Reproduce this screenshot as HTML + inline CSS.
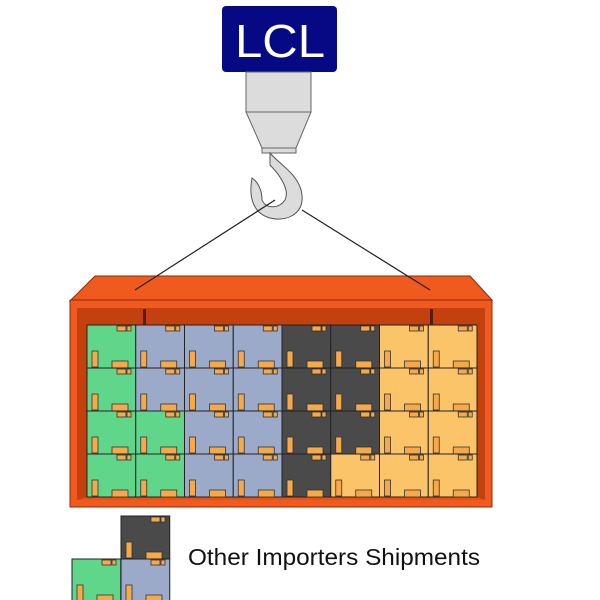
<!DOCTYPE html>
<html><head><style>body{margin:0;background:#fff}svg{display:block}</style></head><body>
<svg width="600" height="600" viewBox="0 0 600 600" xmlns="http://www.w3.org/2000/svg">
<defs>
<g id="bx">
<rect x="0" y="0" width="48.75" height="43" stroke="#222" stroke-width="1"/>
<rect x="30" y="1" width="9" height="5" fill="#f5a94a" stroke="#333" stroke-width="0.8"/>
<rect x="40" y="1" width="4" height="5" fill="#f5a94a" stroke="#333" stroke-width="0.8"/>
<rect x="5" y="26" width="6" height="16" fill="#f5a94a" stroke="#333" stroke-width="0.8"/>
<rect x="25" y="36" width="16" height="7" fill="#f5a94a" stroke="#333" stroke-width="0.8"/>
</g>
</defs>
<!-- crane -->
<rect x="222" y="6" width="115" height="66" rx="4" fill="#050a84"/>
<text x="280" y="57" text-anchor="middle" font-family="Liberation Sans, sans-serif" font-size="46" textLength="90" lengthAdjust="spacingAndGlyphs" fill="#fff">LCL</text>
<rect x="246" y="72" width="65" height="40" fill="#dcdcdc" stroke="#666"/>
<polygon points="246,112 311,112 296,148 262,148" fill="#dcdcdc" stroke="#666"/>
<rect x="262" y="148" width="34" height="5" fill="#dcdcdc" stroke="#666"/>
<path d="M270,153 C280,165 300,175 302,195 C304,215 285,222 270,218 C255,214 248,200 252,178 C258,182 262,190 262,200 C265,208 278,210 285,200 C290,190 280,175 270,165 Z" fill="#dcdcdc" stroke="#555"/>
<!-- container -->
<polygon points="70,301 95,276 470,276 492,300" fill="#f05a1e" stroke="#8a2a0a"/>
<line x1="275" y1="200" x2="135" y2="290" stroke="#222" stroke-width="1.2"/>
<line x1="302" y1="210" x2="430" y2="290" stroke="#222" stroke-width="1.2"/>
<rect x="70" y="300" width="422" height="207" fill="#f05a1e" stroke="#8a2a0a"/>
<rect x="77" y="308" width="408" height="192" fill="#c2410f"/>
<polygon points="77,500 485,500 477,497 87,497" fill="#e5531a"/>
<rect x="143" y="309" width="3" height="16" fill="#5a1a05"/>
<rect x="430" y="309" width="3" height="16" fill="#5a1a05"/>
<g>
<g fill="#5fd68a"><use href="#bx" x="87" y="325"/><use href="#bx" x="87" y="368"/><use href="#bx" x="87" y="411"/><use href="#bx" x="87" y="454"/><use href="#bx" x="135.75" y="411"/><use href="#bx" x="135.75" y="454"/></g>
<g fill="#9aaac8"><use href="#bx" x="135.75" y="325"/><use href="#bx" x="135.75" y="368"/><use href="#bx" x="184.5" y="325"/><use href="#bx" x="184.5" y="368"/><use href="#bx" x="184.5" y="411"/><use href="#bx" x="184.5" y="454"/><use href="#bx" x="233.25" y="325"/><use href="#bx" x="233.25" y="368"/><use href="#bx" x="233.25" y="411"/><use href="#bx" x="233.25" y="454"/></g>
<g fill="#4a4a4a"><use href="#bx" x="282" y="325"/><use href="#bx" x="282" y="368"/><use href="#bx" x="282" y="411"/><use href="#bx" x="282" y="454"/><use href="#bx" x="330.75" y="325"/><use href="#bx" x="330.75" y="368"/><use href="#bx" x="330.75" y="411"/></g>
<g fill="#fcc468"><use href="#bx" x="330.75" y="454"/><use href="#bx" x="379.5" y="325"/><use href="#bx" x="379.5" y="368"/><use href="#bx" x="379.5" y="411"/><use href="#bx" x="379.5" y="454"/><use href="#bx" x="428.25" y="325"/><use href="#bx" x="428.25" y="368"/><use href="#bx" x="428.25" y="411"/><use href="#bx" x="428.25" y="454"/></g>
</g>
<!-- legend -->
<use href="#bx" x="121" y="516" fill="#4a4a4a"/>
<use href="#bx" x="72" y="559" fill="#5fd68a"/>
<use href="#bx" x="121" y="559" fill="#9aaac8"/>
<text x="188" y="565" font-family="Liberation Sans, sans-serif" font-size="23" textLength="292" lengthAdjust="spacingAndGlyphs" fill="#111">Other Importers Shipments</text>
</svg>
</body></html>
